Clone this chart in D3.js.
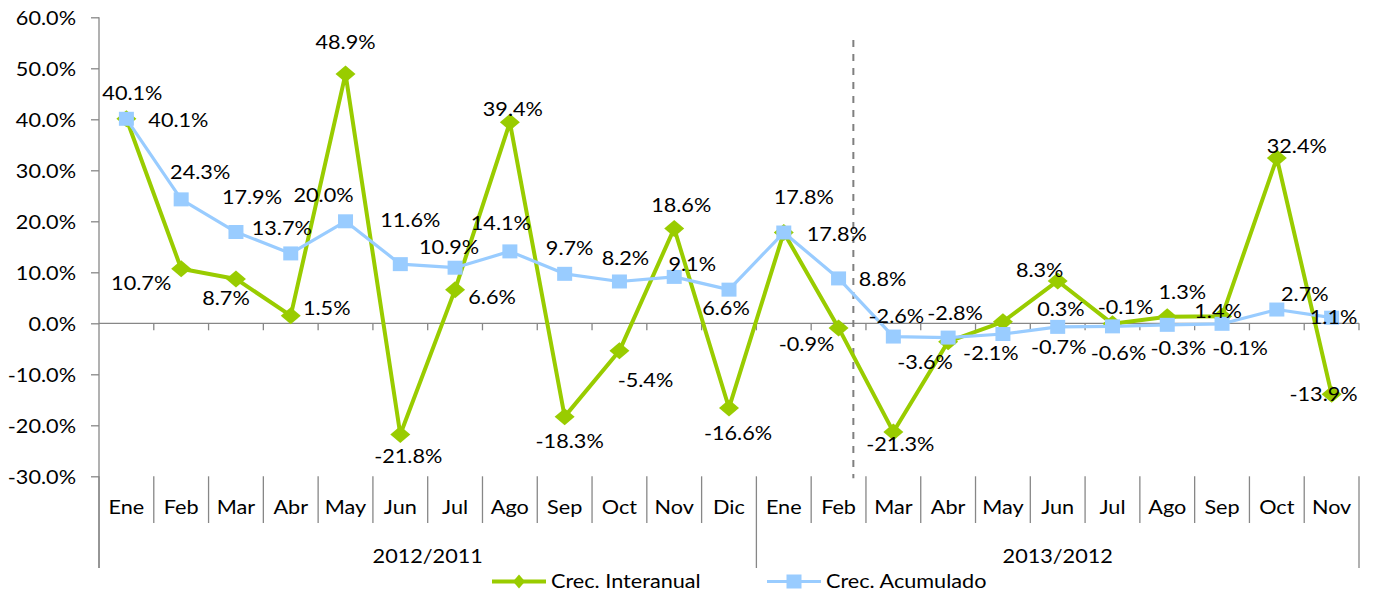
<!DOCTYPE html>
<html>
<head>
<meta charset="utf-8">
<script src="https://cdn.jsdelivr.net/npm/d3@7"></script>
<style>
  body { margin: 0; background: #fff; }
  svg { display: block; }
  text { font-family: Lato, "Open Sans", sans-serif; fill: #000; }
</style>
</head>
<body>
<svg id="chart" width="1377" height="596"></svg>
<script>
// ---- data -------------------------------------------------------------
const months = ["Ene","Feb","Mar","Abr","May","Jun","Jul","Ago","Sep","Oct","Nov","Dic",
                "Ene","Feb","Mar","Abr","May","Jun","Jul","Ago","Sep","Oct","Nov"];
const periods = ["2012/2011", "2013/2012"];
const periodLengths = [12, 11];
const seriesNames = ["Crec. Interanual", "Crec. Acumulado"];

// year-on-year growth (%)
const interanual = [40.1, 10.7, 8.7, 1.5, 48.9, -21.8, 6.6, 39.4, -18.3, -5.4, 18.6, -16.6,
                    17.8, -0.9, -21.3, -3.6, 0.3, 8.3, -0.1, 1.3, 1.4, 32.4, -13.9];
// cumulative growth (%)
const acumulado = [40.1, 24.3, 17.9, 13.7, 20.0, 11.6, 10.9, 14.1, 9.7, 8.2, 9.1, 6.6,
                   17.8, 8.8, -2.6, -2.8, -2.1, -0.7, -0.6, -0.3, -0.1, 2.7, 1.1];

const yTicks = [-30, -20, -10, 0, 10, 20, 30, 40, 50, 60];

// data-label nudges [dx, dy] relative to each point
const interanualLabelOffsets = [[6,-25],[-40,15],[-10,19],[36,-7],[0,-32],[8,22],[37,8],[3,-13],
  [5,25],[26,30],[7,-23],[9,25],[20,-35],[-32,16],[7,12],[-23,21],[58,-12],[-18,-11],[13,-16],
  [15,-24],[-4,-5],[20,-12],[-8,0]];
const acumuladoLabelOffsets = [[52,2],[19,-27],[16,-35],[-9,-25],[-22,-26],[10,-44],[-6,-20],
  [-9,-28],[5,-25],[6,-23],[18,-13],[-3,19],[53,2],[44,1],[3,-20],[7,-24],[-12,19],[1,20],
  [6,27],[11,24],[18,25],[28,-15],[2,0]];

// ---- layout & styles --------------------------------------------------
const GREEN = "#99cc00", BLUE = "#99ccff", AXIS = "#878787";
const FONT = 19, SX = 1.14;             // font size and horizontal text stretch
const plotLeft = 99, plotRight = 1359, plotTop = 17.3, plotBottom = 476.3;
const monthSepBottom = 523, groupSepBottom = 568;

const svg = d3.select("#chart");

const x = d3.scaleBand().domain(d3.range(months.length)).range([plotLeft, plotRight]);
const y = d3.scaleLinear().domain([-30, 60]).range([plotBottom, plotTop]);
const cx = i => x(i) + x.bandwidth() / 2;

function stretch(sel) {
  sel.each(function () {
    const t = d3.select(this);
    const tx = +t.attr("x") || 0, ty = +t.attr("y") || 0;
    t.attr("x", 0).attr("y", 0)
     .attr("transform", `translate(${tx},${ty}) scale(${SX},1)`);
  });
}
const pct = v => v.toFixed(1) + "%";

// ---- y axis -------------------------------------------------------------
const yAxis = svg.append("g")
  .attr("transform", `translate(${plotLeft},0)`)
  .call(d3.axisLeft(y).tickValues(yTicks).tickSize(8).tickSizeOuter(0)
        .tickFormat(v => pct(v)));
yAxis.select(".domain").remove();
yAxis.selectAll(".tick line").attr("stroke", AXIS).attr("stroke-width", 1.3);
yAxis.selectAll(".tick text")
  .attr("font-size", FONT).attr("font-family", "Lato").attr("fill", "#000")
  .attr("x", -23).attr("dy", "0.36em");
stretch(yAxis.selectAll(".tick text"));

svg.append("line")
  .attr("x1", plotLeft).attr("x2", plotLeft)
  .attr("y1", plotTop).attr("y2", groupSepBottom)
  .attr("stroke", AXIS).attr("stroke-width", 1.3);

// ---- zero line with category ticks --------------------------------------
const boundaries = [...x.domain().map(d => x(d)), x.range()[1]];
svg.append("line")
  .attr("x1", plotLeft).attr("x2", plotRight)
  .attr("y1", y(0)).attr("y2", y(0))
  .attr("stroke", AXIS).attr("stroke-width", 1.3);
svg.append("g").selectAll("line").data(boundaries.slice(1)).join("line")
  .attr("x1", d => d).attr("x2", d => d)
  .attr("y1", y(0)).attr("y2", y(0) + 7)
  .attr("stroke", AXIS).attr("stroke-width", 1.3);

// ---- category axis (months + periods) -----------------------------------
const groupEdges = [0];
periodLengths.forEach(n => groupEdges.push(groupEdges[groupEdges.length - 1] + n));

svg.append("g").selectAll("line").data(boundaries).join("line")
  .attr("x1", d => d).attr("x2", d => d)
  .attr("y1", plotBottom)
  .attr("y2", (d, i) => groupEdges.includes(i) ? groupSepBottom : monthSepBottom)
  .attr("stroke", AXIS).attr("stroke-width", 1.3);

const xAxis = svg.append("g")
  .attr("transform", `translate(0,${plotBottom})`)
  .call(d3.axisBottom(x).tickSize(0).tickFormat(i => months[i]));
xAxis.select(".domain").remove();
xAxis.selectAll(".tick text")
  .attr("font-size", FONT).attr("font-family", "Lato").attr("fill", "#000")
  .attr("y", 31).attr("dy", "0.35em");
stretch(xAxis.selectAll(".tick text"));

svg.append("g").selectAll("text").data(periods).join("text")
  .attr("x", (d, i) => (boundaries[groupEdges[i]] + boundaries[groupEdges[i + 1]]) / 2)
  .attr("y", 556)
  .attr("dy", "0.35em")
  .attr("text-anchor", "middle")
  .attr("font-size", FONT)
  .text(d => d)
  .call(stretch);

// ---- dashed divider -----------------------------------------------------
svg.append("line")
  .attr("x1", x(13) + x.bandwidth() * 0.77).attr("x2", x(13) + x.bandwidth() * 0.77)
  .attr("y1", 40).attr("y2", plotBottom + 2)
  .attr("stroke", "#7f7f7f").attr("stroke-width", 2)
  .attr("stroke-dasharray", "7,7");

// ---- series -------------------------------------------------------------
const line = d3.line().x((d, i) => cx(i)).y(d => y(d));
const diamond = (w, h) => `M0,${-h}L${w},0L0,${h}L${-w},0Z`;

svg.append("path").datum(interanual)
  .attr("d", line).attr("fill", "none")
  .attr("stroke", GREEN).attr("stroke-width", 4).attr("stroke-linejoin", "round");
svg.append("g").selectAll("path").data(interanual).join("path")
  .attr("d", diamond(10, 8.5))
  .attr("transform", (d, i) => `translate(${cx(i)},${y(d)})`)
  .attr("fill", GREEN);

svg.append("path").datum(acumulado)
  .attr("d", line).attr("fill", "none")
  .attr("stroke", BLUE).attr("stroke-width", 3.2).attr("stroke-linejoin", "round");
svg.append("g").selectAll("rect").data(acumulado).join("rect")
  .attr("x", (d, i) => cx(i) - 7.5).attr("y", d => y(d) - 7)
  .attr("width", 15).attr("height", 14)
  .attr("fill", BLUE);

// ---- data labels --------------------------------------------------------
function labels(values, offsets) {
  svg.append("g").selectAll("text").data(values).join("text")
    .attr("x", (d, i) => cx(i) + offsets[i][0])
    .attr("y", (d, i) => y(d) + offsets[i][1])
    .attr("dy", "0.35em")
    .attr("text-anchor", "middle")
    .attr("font-size", FONT)
    .text(d => pct(d))
    .call(stretch);
}
labels(interanual, interanualLabelOffsets);
labels(acumulado, acumuladoLabelOffsets);

// ---- legend -------------------------------------------------------------
const legendY = 581.5;
const legendItems = [
  { name: seriesNames[0], color: GREEN, x0: 492, width: 4, marker: "diamond" },
  { name: seriesNames[1], color: BLUE, x0: 767, width: 3.2, marker: "square" }
];
const lg = svg.append("g").selectAll("g").data(legendItems).join("g")
  .attr("transform", d => `translate(${d.x0},${legendY})`);
lg.append("line")
  .attr("x1", 0).attr("x2", 54).attr("y1", 0).attr("y2", 0)
  .attr("stroke", d => d.color).attr("stroke-width", d => d.width);
lg.filter(d => d.marker === "diamond").append("path")
  .attr("d", diamond(6, 7)).attr("transform", "translate(27,0)")
  .attr("fill", d => d.color);
lg.filter(d => d.marker === "square").append("rect")
  .attr("x", 27 - 7.5).attr("y", -7).attr("width", 15).attr("height", 14)
  .attr("fill", d => d.color);
lg.append("text")
  .attr("x", 59).attr("y", 0).attr("dy", "0.35em")
  .attr("font-size", FONT)
  .text(d => d.name)
  .call(stretch);
</script>
</body>
</html>
